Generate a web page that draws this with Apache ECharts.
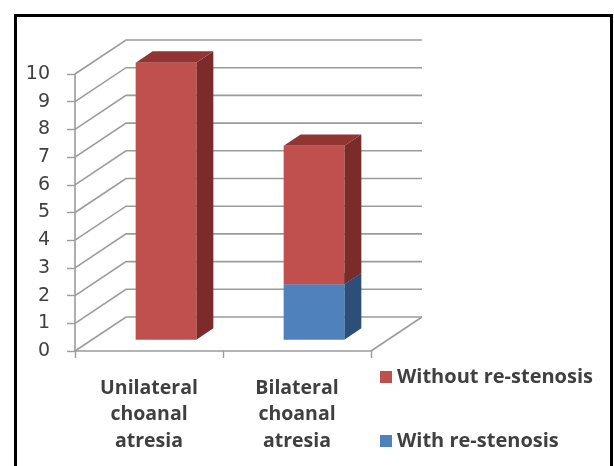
<!DOCTYPE html>
<html>
<head>
<meta charset="utf-8">
<script src="https://cdn.jsdelivr.net/npm/echarts@6/dist/echarts.min.js"></script>
<style>
  html, body { margin: 0; padding: 0; background: #ffffff; }
  #chart { width: 614px; height: 466px; }
</style>
</head>
<body>
<div id="chart"></div>
<script>
// Choanal atresia cases, split by re-stenosis outcome
const categories = ['Unilateral\nchoanal\natresia', 'Bilateral\nchoanal\natresia'];
const withRestenosis = [0, 2];
const withoutRestenosis = [10, 5];
const yTicks = [0, 1, 2, 3, 4, 5, 6, 7, 8, 9, 10];
const seriesNames = ['Without re-stenosis', 'With re-stenosis'];

// Pseudo-3D geometry: full floor depth and the slab occupied by the bars
const DEPTH_X = 51, DEPTH_Y = -34;
const BAR_T0 = 1 / 3, BAR_T1 = 2 / 3;
const BAR_RATIO = 0.41;

const chart = echarts.init(document.getElementById('chart'));

function wallRenderer(params, api) {
  const cs = params.coordSys;
  const v = api.value(1);
  const y = api.coord([0, v])[1];
  const xl = cs.x, xr = cs.x + cs.width;
  const style = { stroke: '#9c9c9c', lineWidth: 1.6, fill: null };
  const children = [{
    type: 'polyline',
    shape: { points: [[xl, y], [xl + DEPTH_X, y + DEPTH_Y], [xr + DEPTH_X, y + DEPTH_Y]] },
    style: style
  }];
  if (v === 0) {
    children.push({
      type: 'line',
      shape: { x1: xr, y1: y, x2: xr + DEPTH_X, y2: y + DEPTH_Y },
      style: style
    });
  }
  return { type: 'group', children: children };
}

function barRenderer(colors) {
  return function (params, api) {
    const cat = api.value(0), base = api.value(1), top = api.value(2);
    if (top <= base) return null;
    const band = api.size([1, 0])[0];
    const w = band * BAR_RATIO;
    const pTop = api.coord([cat, top]);
    const pBase = api.coord([cat, base]);
    const ox = DEPTH_X * BAR_T0, oy = DEPTH_Y * BAR_T0;
    const dx = DEPTH_X * (BAR_T1 - BAR_T0), dy = DEPTH_Y * (BAR_T1 - BAR_T0);
    const x0 = pTop[0] - w / 2 + ox, x1 = pTop[0] + w / 2 + ox;
    const yT = pTop[1] + oy, yB = pBase[1] + oy;
    return {
      type: 'group',
      children: [
        { type: 'polygon', shape: { points: [[x1, yT], [x1 + dx, yT + dy], [x1 + dx, yB + dy], [x1, yB]] },
          style: { fill: colors.side } },
        { type: 'polygon', shape: { points: [[x0, yT], [x0 + dx, yT + dy], [x1 + dx, yT + dy], [x1, yT]] },
          style: { fill: colors.top } },
        { type: 'rect', shape: { x: x0, y: yT, width: x1 - x0, height: yB - yT },
          style: { fill: colors.front } }
      ]
    };
  };
}

const withData = categories.map((c, i) => [i, 0, withRestenosis[i]]);
const withoutData = categories.map((c, i) => [i, withRestenosis[i], withRestenosis[i] + withoutRestenosis[i]]);

chart.setOption({
  animation: false,
  backgroundColor: '#ffffff',
  grid: { left: 75, top: 74, width: 296, height: 277, containLabel: false },
  xAxis: {
    type: 'category',
    data: categories,
    boundaryGap: true,
    axisLine: { lineStyle: { color: '#9c9c9c', width: 1.6 } },
    axisTick: { show: true, length: 7, lineStyle: { color: '#9c9c9c', width: 1.4 } },
    axisLabel: {
      interval: 0,
      margin: 24,
      fontFamily: 'Open Sans',
      fontWeight: 'bold',
      fontSize: 19.5,
      lineHeight: 26.5,
      color: '#3f3f3f'
    }
  },
  yAxis: {
    type: 'value',
    min: 0,
    max: 10,
    interval: 1,
    axisLine: { show: true, lineStyle: { color: '#9c9c9c', width: 1.6 } },
    axisTick: { show: true, length: 8, lineStyle: { color: '#9c9c9c', width: 1.4 } },
    splitLine: { show: false },
    axisLabel: {
      margin: 25,
      fontFamily: 'DejaVu Sans',
      fontSize: 19,
      color: '#404040'
    }
  },
  legend: {
    data: seriesNames,
    orient: 'vertical',
    left: 375,
    top: 362,
    itemWidth: 12,
    itemHeight: 12,
    itemGap: 44,
    icon: 'rect',
    textStyle: { fontFamily: 'Open Sans', fontWeight: 'bold', fontSize: 20, color: '#404040' }
  },
  graphic: [{
    type: 'rect',
    left: 13, top: 13,
    shape: { width: 596, height: 480 },
    style: { fill: null, stroke: '#000000', lineWidth: 3 },
    silent: true
  }],
  series: [
    {
      type: 'custom',
      name: 'wall',
      silent: true,
      z: 1,
      renderItem: wallRenderer,
      encode: { x: 0, y: 1 },
      data: yTicks.map(v => [0, v])
    },
    {
      type: 'custom',
      name: seriesNames[1],
      z: 3,
      itemStyle: { color: '#4f81bd' },
      renderItem: barRenderer({ front: '#4f81bd', side: '#2c4f7a', top: '#3a64a0' }),
      encode: { x: 0, y: [1, 2] },
      data: withData
    },
    {
      type: 'custom',
      name: seriesNames[0],
      z: 4,
      itemStyle: { color: '#c0504d' },
      renderItem: barRenderer({ front: '#c0504d', side: '#7b2c2a', top: '#923532' }),
      encode: { x: 0, y: [1, 2] },
      data: withoutData
    }
  ]
});
</script>
</body>
</html>
